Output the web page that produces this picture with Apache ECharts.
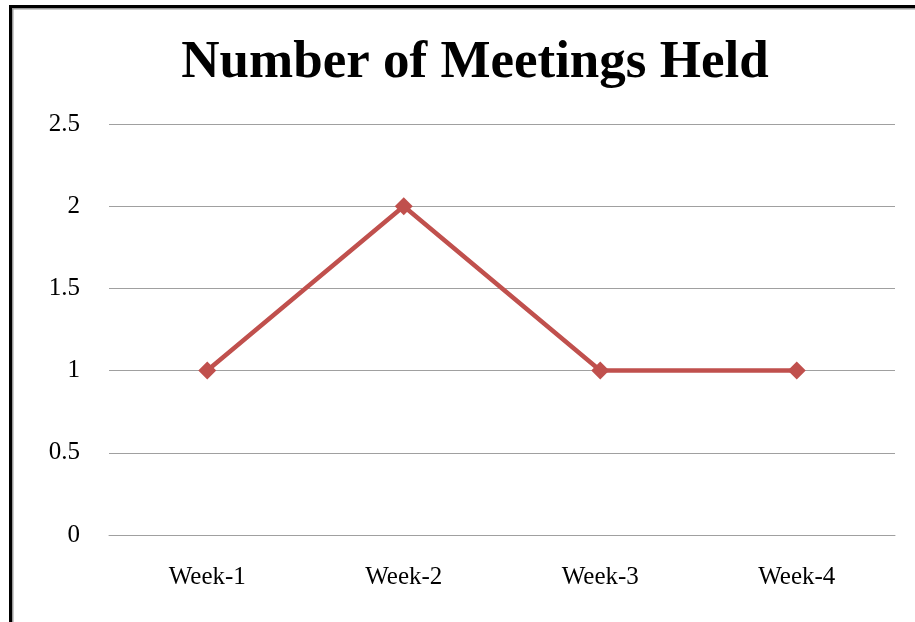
<!DOCTYPE html>
<html>
<head>
<meta charset="utf-8">
<script src="https://cdn.jsdelivr.net/npm/echarts@6/dist/echarts.min.js"></script>
<style>
  html, body { margin: 0; padding: 0; background: #fff; }
  #chart { width: 915px; height: 622px; }
</style>
</head>
<body>
<div id="chart"></div>
<script>
const weeks = ['Week-1', 'Week-2', 'Week-3', 'Week-4']
const meetings = [1, 2, 1, 1]

const chart = echarts.init(document.getElementById('chart'))

const option = {
  backgroundColor: '#fff',
  animation: false,
  title: {
    text: 'Number of Meetings Held',
    left: 470,
    textAlign: 'center',
    top: 32,
    textStyle: {
      fontFamily: 'Liberation Serif',
      fontSize: 53,
      fontWeight: 'bold',
      color: '#000'
    }
  },
  grid: {
    left: 109,
    right: 20,
    top: 124,
    bottom: 87
  },
  xAxis: {
    type: 'category',
    data: weeks,
    boundaryGap: true,
    axisLine: { lineStyle: { color: '#a0a0a0', width: 1 } },
    axisTick: { show: false },
    axisLabel: {
      margin: 30,
      fontFamily: 'Liberation Serif',
      fontSize: 25,
      color: '#000'
    }
  },
  yAxis: {
    type: 'value',
    min: 0,
    max: 2.5,
    interval: 0.5,
    axisLine: { show: false },
    axisTick: { show: false },
    splitLine: { lineStyle: { color: '#a0a0a0', width: 1 } },
    axisLabel: {
      margin: 29,
      fontFamily: 'Liberation Serif',
      fontSize: 25,
      color: '#000'
    }
  },
  series: [{
    type: 'line',
    data: meetings,
    symbol: 'diamond',
    symbolSize: 18,
    lineStyle: { color: '#c0504d', width: 4.5 },
    itemStyle: { color: '#c0504d' }
  }],
  // frame of the original chart area
  graphic: [
    { type: 'rect', shape: { x: 9, y: 5, width: 906, height: 3 }, style: { fill: '#000' } },
    { type: 'rect', shape: { x: 9, y: 5, width: 3, height: 617 }, style: { fill: '#000' } },
    { type: 'rect', shape: { x: 12, y: 8, width: 903, height: 1.5 }, style: { fill: '#999' } },
    { type: 'rect', shape: { x: 12, y: 8, width: 1.5, height: 614 }, style: { fill: '#999' } }
  ]
}

chart.setOption(option)
</script>
</body>
</html>
